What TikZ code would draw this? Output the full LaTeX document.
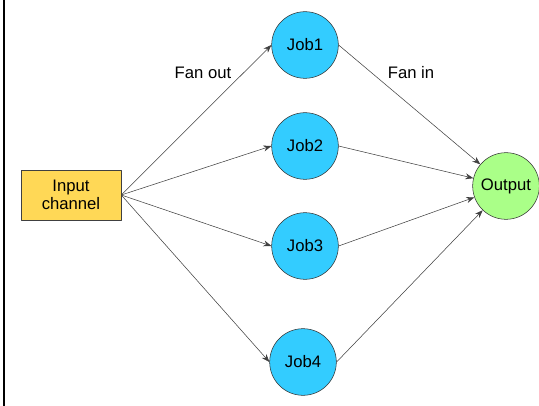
\documentclass[tikz,border=0pt]{standalone}
\usepackage{fontspec}
\setmainfont{Liberation Sans}
\usetikzlibrary{arrows.meta}
\definecolor{inputfill}{RGB}{255,216,86}
\definecolor{jobfill}{RGB}{51,204,255}
\definecolor{outfill}{RGB}{170,255,136}
\tikzset{
  inbox/.style={draw=black!75, fill=inputfill, minimum width=75pt, minimum height=37.5pt, align=center, inner sep=1pt},
  jobnode/.style={circle, draw=black!80, fill=jobfill, minimum size=50pt, inner sep=0pt},
  outnode/.style={circle, draw=black!80, fill=outfill, minimum size=50pt, inner sep=0pt},
  flow/.style={->, draw=black!75, thin}
}
\begin{document}
\begin{tikzpicture}[x=0.75pt, y=-0.75pt, font=\fontsize{12.5}{14}\selectfont, line join=round, >={Stealth[length=6pt,width=4.5pt]}]
\useasboundingbox (0,0) rectangle (539,406);
\draw[line width=1pt] (4,0)--(4,406);
\node[inbox] (in) at (71,195) {Input\\channel};
\node[outnode] (out) at (506,186) {Output};
\node[jobnode] (j1) at (305,45) {Job1};
\node[jobnode] (j2) at (305,146) {Job2};
\node[jobnode] (j3) at (305,246) {Job3};
\node[jobnode] (j4) at (303,362) {Job4};
\foreach \j in {j1,j2,j3,j4}{
  \draw[flow] (in.east)--(\j.west);
  \draw[flow] (\j.east)--(out);
}
\node (fanout) at (203,73) {Fan out};
\node (fanin) at (411,73) {Fan in};
\end{tikzpicture}
\end{document}
